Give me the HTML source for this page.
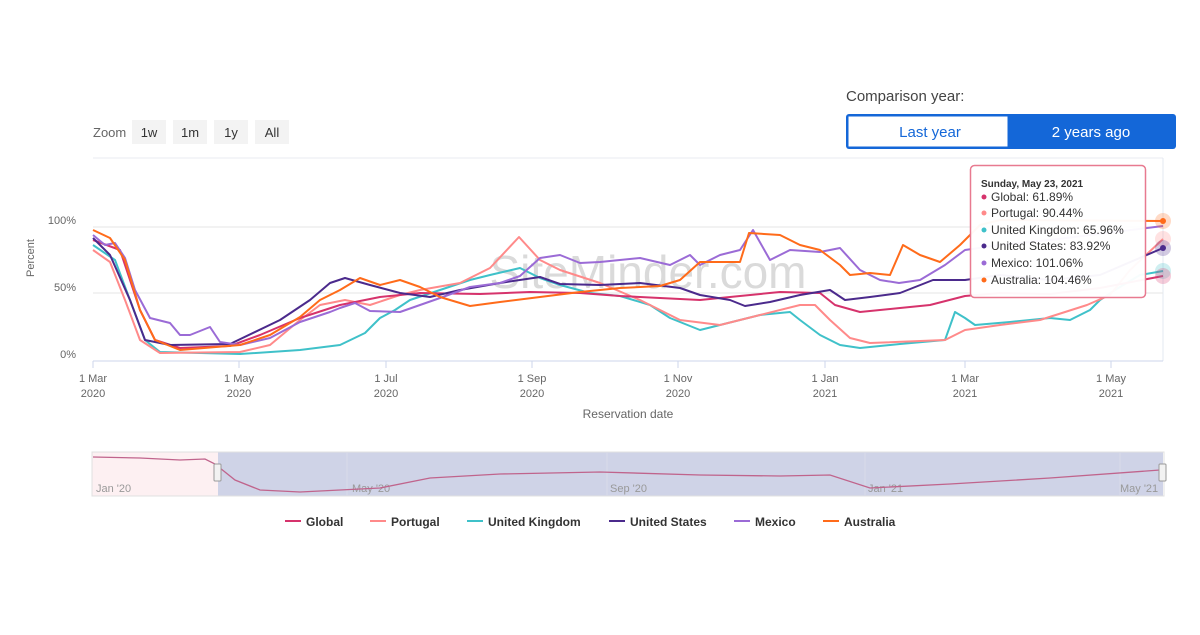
<!DOCTYPE html>
<html><head><meta charset="utf-8"><style>
body{margin:0;background:#fff;width:1200px;height:630px;overflow:hidden;font-family:"Liberation Sans",sans-serif;}
</style></head><body>
<svg width="1200" height="630" xmlns="http://www.w3.org/2000/svg" font-family="Liberation Sans, sans-serif">
<rect width="1200" height="630" fill="#fff"/>
<text x="93" y="137" font-size="13" fill="#666">Zoom</text>
<g font-size="13" fill="#333" text-anchor="middle">
<rect x="132" y="120" width="34" height="24" fill="#f3f3f3"/><text x="149" y="137">1w</text>
<rect x="173" y="120" width="34" height="24" fill="#f3f3f3"/><text x="190" y="137">1m</text>
<rect x="214" y="120" width="34" height="24" fill="#f3f3f3"/><text x="231" y="137">1y</text>
<rect x="255" y="120" width="34" height="24" fill="#f3f3f3"/><text x="272" y="137">All</text>
</g>
<text x="846" y="101" font-size="15" fill="#444">Comparison year:</text>
<rect x="846" y="114" width="330" height="35" rx="3" fill="#1467d8"/>
<rect x="848.5" y="116.5" width="159" height="30" fill="#fff"/>
<text x="930" y="137" font-size="15" fill="#1467d8" text-anchor="middle">Last year</text>
<text x="1091" y="137" font-size="15" fill="#fff" text-anchor="middle">2 years ago</text>
<line x1="93" y1="158" x2="1163" y2="158" stroke="#e8ebf0"/>
<line x1="1163" y1="158" x2="1163" y2="361" stroke="#e3e8f2"/>
<line x1="93" y1="227" x2="1163" y2="227" stroke="#e6e6e6"/>
<line x1="93" y1="293" x2="1163" y2="293" stroke="#e6e6e6"/>
<line x1="93" y1="361" x2="1163" y2="361" stroke="#ccd6eb"/>
<g font-size="11" fill="#666" text-anchor="end">
<text x="76" y="224">100%</text><text x="76" y="291">50%</text><text x="76" y="358">0%</text>
</g>
<text x="34" y="258" font-size="11" fill="#666" text-anchor="middle" transform="rotate(-90 34 258)">Percent</text>
<g stroke="#ccd6eb"><line x1="93" y1="361" x2="93" y2="368"/><line x1="239" y1="361" x2="239" y2="368"/><line x1="386" y1="361" x2="386" y2="368"/><line x1="532" y1="361" x2="532" y2="368"/><line x1="678" y1="361" x2="678" y2="368"/><line x1="825" y1="361" x2="825" y2="368"/><line x1="965" y1="361" x2="965" y2="368"/><line x1="1111" y1="361" x2="1111" y2="368"/></g>
<g font-size="11" fill="#666" text-anchor="middle">
<text x="93" y="382">1 Mar</text><text x="93" y="397">2020</text>
<text x="239" y="382">1 May</text><text x="239" y="397">2020</text>
<text x="386" y="382">1 Jul</text><text x="386" y="397">2020</text>
<text x="532" y="382">1 Sep</text><text x="532" y="397">2020</text>
<text x="678" y="382">1 Nov</text><text x="678" y="397">2020</text>
<text x="825" y="382">1 Jan</text><text x="825" y="397">2021</text>
<text x="965" y="382">1 Mar</text><text x="965" y="397">2021</text>
<text x="1111" y="382">1 May</text><text x="1111" y="397">2021</text>
<text x="628" y="418" font-size="12">Reservation date</text>
</g>
<text x="648" y="288" font-size="46" fill="#d4d4d4" text-anchor="middle" opacity="0.85">SiteMinder.com</text>
<g fill="none" stroke-width="2" stroke-linejoin="round">
<polyline stroke="#3fc1c9" points="93,245 115,260 130,300 145,340 160,352 240,354 300,350 340,345 365,333 380,318 395,310 410,300 440,290 470,280 490,275 520,268 540,278 560,285 590,293 620,296 650,305 670,318 700,330 720,325 760,315 790,312 800,320 820,335 840,345 860,348 900,344 945,340 955,312 965,318 975,325 1010,322 1050,318 1070,320 1090,310 1100,300 1115,290 1140,275 1163,271"/>
<polyline stroke="#ff8a8a" points="93,250 110,262 125,300 140,340 160,353 240,352 270,345 300,320 320,305 345,300 370,305 400,295 420,290 460,283 490,268 519,237 540,260 560,270 600,283 640,300 680,320 720,325 760,315 800,305 815,305 830,320 850,338 870,343 945,340 965,330 1000,325 1040,320 1087,305 1110,295 1130,270 1163,239"/>
<polyline stroke="#d6336c" points="93,240 120,250 140,310 155,340 180,348 230,346 260,335 300,318 340,305 380,297 420,293 480,294 530,292 580,293 620,296 660,298 700,300 740,296 780,292 820,293 835,305 860,312 900,308 930,305 965,296 1000,293 1050,294 1100,288 1163,276"/>
<polyline stroke="#4b2a8c" points="93,238 110,255 130,300 145,340 170,345 230,344 280,320 310,300 330,283 345,278 370,285 400,293 430,297 460,290 500,283 540,277 560,284 600,285 640,283 680,288 700,295 730,300 745,306 770,302 800,295 830,290 845,300 870,297 900,293 933,280 965,280 1000,275 1050,280 1100,275 1163,248"/>
<polyline stroke="#9b6bd6" points="93,235 105,245 115,243 125,258 135,290 150,318 170,323 180,335 190,335 210,327 220,342 240,345 270,338 300,322 330,312 340,308 355,303 370,311 400,312 420,305 440,298 470,287 500,283 520,276 540,258 560,255 580,263 600,262 640,258 670,265 690,255 700,265 720,255 740,250 753,230 770,260 790,250 820,252 840,248 860,270 880,280 899,283 920,280 945,265 965,250 1000,245 1050,240 1163,226"/>
<polyline stroke="#ff6b1a" points="93,230 110,238 125,260 140,310 155,340 180,350 240,345 270,335 300,317 320,300 340,290 360,278 380,285 400,280 420,287 440,297 470,306 500,302 540,297 580,292 620,288 660,286 680,280 700,262 740,262 749,233 780,235 800,245 820,250 840,265 850,275 870,273 890,275 903,245 920,255 940,262 960,245 980,225 1000,220 1163,221"/>
</g>
<g>
<circle cx="1163" cy="221" r="8" fill="#ff6b1a" opacity="0.25"/><circle cx="1163" cy="221" r="3" fill="#ff6b1a"/>
<circle cx="1163" cy="239" r="8" fill="#ff8a8a" opacity="0.25"/>
<circle cx="1163" cy="248" r="8" fill="#4b2a8c" opacity="0.25"/><circle cx="1163" cy="248" r="3" fill="#4b2a8c"/>
<circle cx="1163" cy="271" r="8" fill="#3fc1c9" opacity="0.25"/>
<circle cx="1163" cy="276" r="8" fill="#d6336c" opacity="0.25"/>
</g>
<rect x="970.5" y="165.5" width="175" height="132" rx="4" fill="#fff" fill-opacity="0.96" stroke="#e87a90" stroke-width="1.5"/>
<text x="981" y="187" font-size="10" font-weight="bold" fill="#333">Sunday, May 23, 2021</text>
<g font-size="12" fill="#333">
<circle cx="984" cy="197" r="2.5" fill="#d6336c"/><text x="991" y="201">Global: 61.89%</text>
<circle cx="984" cy="213" r="2.5" fill="#ff8a8a"/><text x="991" y="217">Portugal: 90.44%</text>
<circle cx="984" cy="230" r="2.5" fill="#3fc1c9"/><text x="991" y="234">United Kingdom: 65.96%</text>
<circle cx="984" cy="246" r="2.5" fill="#4b2a8c"/><text x="991" y="250">United States: 83.92%</text>
<circle cx="984" cy="263" r="2.5" fill="#9b6bd6"/><text x="991" y="267">Mexico: 101.06%</text>
<circle cx="984" cy="280" r="2.5" fill="#ff6b1a"/><text x="991" y="284">Australia: 104.46%</text>
</g>
<rect x="92" y="452" width="126" height="44" fill="#fdf0f2"/>
<rect x="218" y="452" width="945" height="44" fill="#c7cbe3" opacity="0.85"/>
<rect x="92" y="452" width="1072" height="44" fill="none" stroke="#e0e0e0"/>
<g stroke="#d8dbe8"><line x1="347" y1="452" x2="347" y2="496"/><line x1="607" y1="452" x2="607" y2="496"/><line x1="865" y1="452" x2="865" y2="496"/><line x1="1120" y1="452" x2="1120" y2="496"/></g>
<g font-size="11" fill="#999"><text x="96" y="492">Jan '20</text><text x="352" y="492">May '20</text><text x="610" y="492">Sep '20</text><text x="868" y="492">Jan '21</text><text x="1120" y="492">May '21</text></g>
<polyline fill="none" stroke="#c0648c" stroke-width="1.3" points="93,457 140,458 180,460 205,459 215,464 235,480 260,490 300,492 380,488 430,478 500,474 600,472 700,475 780,476 830,475 870,488 950,484 1050,478 1160,470"/>
<rect x="214" y="464" width="7" height="17" rx="1" fill="#f2f2f2" stroke="#999"/>
<rect x="1159" y="464" width="7" height="17" rx="1" fill="#f2f2f2" stroke="#999"/>
<g font-size="12" fill="#333" font-weight="bold">
<line x1="285" y1="521" x2="301" y2="521" stroke="#d6336c" stroke-width="2"/><text x="306" y="526">Global</text>
<line x1="370" y1="521" x2="386" y2="521" stroke="#ff8a8a" stroke-width="2"/><text x="391" y="526">Portugal</text>
<line x1="467" y1="521" x2="483" y2="521" stroke="#3fc1c9" stroke-width="2"/><text x="488" y="526">United Kingdom</text>
<line x1="609" y1="521" x2="625" y2="521" stroke="#4b2a8c" stroke-width="2"/><text x="630" y="526">United States</text>
<line x1="734" y1="521" x2="750" y2="521" stroke="#9b6bd6" stroke-width="2"/><text x="755" y="526">Mexico</text>
<line x1="823" y1="521" x2="839" y2="521" stroke="#ff6b1a" stroke-width="2"/><text x="844" y="526">Australia</text>
</g>
</svg>
</body></html>
